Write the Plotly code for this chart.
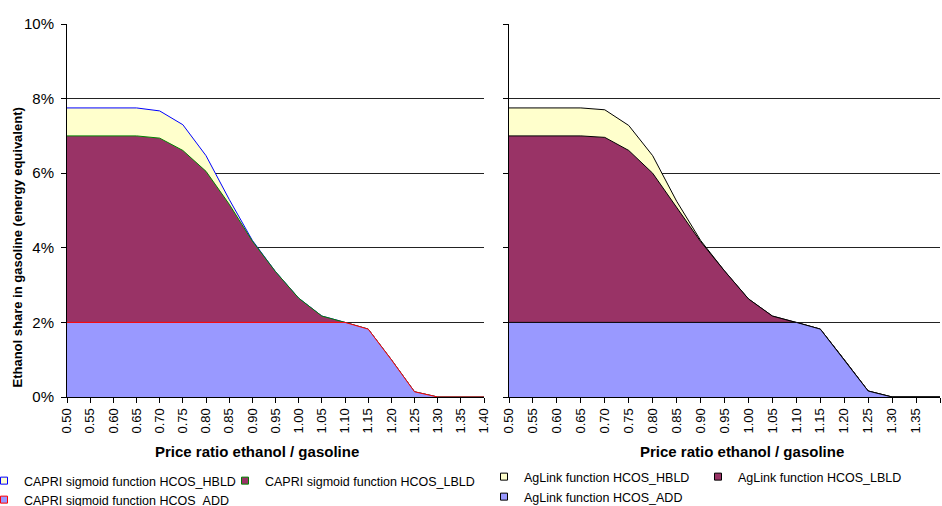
import plotly.graph_objects as go

# ---------------- data ----------------
price_ratio = [0.50, 0.55, 0.60, 0.65, 0.70, 0.75, 0.80, 0.85, 0.90, 0.95,
               1.00, 1.05, 1.10, 1.15, 1.20, 1.25, 1.30, 1.35, 1.40]
tick_labels = ["0.50", "0.55", "0.60", "0.65", "0.70", "0.75", "0.80", "0.85", "0.90", "0.95",
               "1.00", "1.05", "1.10", "1.15", "1.20", "1.25", "1.30", "1.35", "1.40"]

# CAPRI sigmoid function (ethanol share, %)
capri_hbld = [7.75, 7.75, 7.75, 7.75, 7.67, 7.30, 6.47, 5.30, 4.20, 3.36,
              2.65, 2.17, 2.00, 1.82, 1.00, 0.14, 0.00, 0.00, 0.00]
capri_lbld = [7.00, 7.00, 7.00, 7.00, 6.94, 6.61, 6.05, 5.17, 4.18, 3.36,
              2.65, 2.17, 2.00, 1.82, 1.00, 0.14, 0.00, 0.00, 0.00]
capri_add = [2.00, 2.00, 2.00, 2.00, 2.00, 2.00, 2.00, 2.00, 2.00, 2.00,
             2.00, 2.00, 2.00, 1.82, 1.00, 0.14, 0.00, 0.00, 0.00]

# AgLink function (ethanol share, %)
aglink_hbld = [7.75, 7.75, 7.75, 7.75, 7.70, 7.28, 6.47, 5.25, 4.20, 3.38,
               2.63, 2.17, 2.00, 1.82, 1.00, 0.16, 0.00, 0.00, 0.00]
aglink_lbld = [7.00, 7.00, 7.00, 7.00, 6.96, 6.61, 6.00, 5.10, 4.17, 3.38,
               2.63, 2.17, 2.00, 1.82, 1.00, 0.16, 0.00, 0.00, 0.00]
aglink_add = [2.00, 2.00, 2.00, 2.00, 2.00, 2.00, 2.00, 2.00, 2.00, 2.00,
              2.00, 2.00, 2.00, 1.82, 1.00, 0.16, 0.00, 0.00, 0.00]

y_ticks = [0, 2, 4, 6, 8, 10]
y_tick_labels = ["0%", "2%", "4%", "6%", "8%", "10%"]

names_left = ["CAPRI sigmoid function HCOS_HBLD", "CAPRI sigmoid function HCOS_LBLD",
              "CAPRI sigmoid function HCOS_ADD"]
names_right = ["AgLink function HCOS_HBLD", "AgLink function HCOS_LBLD",
               "AgLink function HCOS_ADD"]

# ---------------- styles ----------------
FONT = "Liberation Sans, Arial, sans-serif"
W, H = 942, 506
fills = ["#FFFFCC", "#993366", "#9999FF"]
lines_left = ["#0000FF", "#008000", "#FF0000"]
lines_right = ["#000000", "#000000", "#000000"]

fig = go.Figure()

left_series = [capri_hbld, capri_lbld, capri_add]
right_series = [aglink_hbld, aglink_lbld, aglink_add]

for ser, fc, lc in zip(left_series, fills, lines_left):
    fig.add_trace(go.Scatter(x=price_ratio, y=ser, mode="lines", fill="tozeroy",
                             fillcolor=fc, line=dict(color=lc, width=1),
                             showlegend=False, xaxis="x", yaxis="y", hoverinfo="skip"))
for ser, fc, lc in zip(right_series, fills, lines_right):
    fig.add_trace(go.Scatter(x=price_ratio, y=ser, mode="lines", fill="tozeroy",
                             fillcolor=fc, line=dict(color=lc, width=1),
                             showlegend=False, xaxis="x2", yaxis="y2", hoverinfo="skip"))


def px_x(p):
    return p / W


def px_y(p):
    return (397 - p) / (397 - 24)


# legend entries (square markers like the original); (x of text start, y of row)
legend_pos = [
    (names_left[0], fills[0], lines_left[0], "x", "y", 22, 481),
    (names_left[1], fills[1], lines_left[1], "x", "y", 263, 481),
    (names_left[2], fills[2], lines_left[2], "x", "y", 22, 500),
    (names_right[0], fills[0], "#000000", "x2", "y2", 522, 477),
    (names_right[1], fills[1], "#000000", "x2", "y2", 736, 477),
    (names_right[2], fills[2], "#000000", "x2", "y2", 522, 497),
]
legend_layouts = {}
for i, (nm, fc, lc, xa, ya, tx, ty) in enumerate(legend_pos):
    key = "legend" if i == 0 else f"legend{i+1}"
    fig.add_trace(go.Scatter(x=[None], y=[None], mode="markers", name=nm,
                             marker=dict(symbol="square", size=7, color=fc,
                                         line=dict(color=lc, width=1)),
                             showlegend=True, legend=key, xaxis=xa, yaxis=ya))
    legend_layouts[key] = dict(x=px_x(tx - 38), xanchor="left",
                               y=px_y(ty), yanchor="middle",
                               bgcolor="rgba(0,0,0,0)", borderwidth=0,
                               font=dict(family=FONT, size=12.5, color="#000"),
                               itemwidth=30)

axis_common_x = dict(range=[0.5, 1.4], tickvals=price_ratio, ticktext=tick_labels,
                     tickangle=-90, ticks="outside", ticklen=5, tickcolor="#000",
                     showline=True, linecolor="#000", linewidth=1,
                     showgrid=False, zeroline=False, automargin=False,
                     tickfont=dict(family=FONT, size=13, color="#000"))
axis_common_y = dict(range=[0, 10], tickvals=y_ticks, ticks="outside", ticklen=5,
                     tickcolor="#000", showline=True, linecolor="#000", linewidth=1,
                     showgrid=True, gridcolor="#222", gridwidth=1, zeroline=False,
                     automargin=False)

fig.update_layout(
    width=W, height=H,
    margin=dict(l=0, r=0, t=24, b=109, autoexpand=False),
    paper_bgcolor="white", plot_bgcolor="white",
    xaxis=dict(domain=[67 / W, 484 / W], anchor="y", **axis_common_x),
    yaxis=dict(domain=[0, 1], anchor="x", ticktext=y_tick_labels,
               tickfont=dict(family=FONT, size=15, color="#000"),
               ticklabelstandoff=4, **axis_common_y),
    xaxis2=dict(domain=[509 / W, 940 / W], anchor="y2", **axis_common_x),
    yaxis2=dict(domain=[0, 1], anchor="x2", showticklabels=False, **axis_common_y),
    annotations=[
        dict(text="<b>Price ratio ethanol / gasoline</b>", xref="paper", yref="paper",
             x=px_x(257), y=px_y(452), xanchor="center", yanchor="middle",
             showarrow=False, font=dict(family=FONT, size=15, color="#000")),
        dict(text="<b>Price ratio ethanol / gasoline</b>", xref="paper", yref="paper",
             x=px_x(742), y=px_y(452), xanchor="center", yanchor="middle",
             showarrow=False, font=dict(family=FONT, size=15, color="#000")),
        dict(text="<b>Ethanol share in gasoline (energy equivalent)</b>", xref="paper",
             yref="paper", x=px_x(17.5), y=px_y(248), xanchor="center", yanchor="middle",
             textangle=-90, showarrow=False, font=dict(family=FONT, size=13, color="#000")),
    ],
    **legend_layouts,
)

fig.write_html("out.html")
